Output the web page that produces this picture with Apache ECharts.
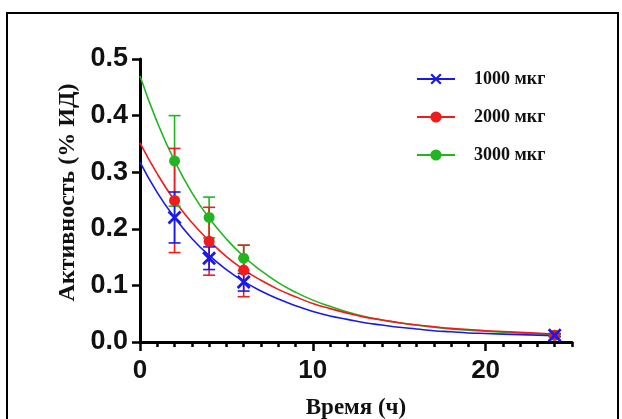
<!DOCTYPE html>
<html>
<head>
<meta charset="utf-8">
<script src="https://cdn.jsdelivr.net/npm/echarts@6/dist/echarts.min.js"></script>
<style>
html,body{margin:0;padding:0;background:#fff;}
#chart{width:622px;height:419px;}
</style>
</head>
<body>
<div id="chart"></div>
<script>
// ---- data ----
const doseNames = ['1000 мкг', '2000 мкг', '3000 мкг'];
const xTickLabels = [0, 10, 20];

// fitted decay curves
const curveTime = [0,1,2,3,4,5,6,7,8,9,10,11,12,13,14,15,16,17,18,19,20,22,24];
const curve1000 = [0.318,0.264,0.220,0.183,0.153,0.128,0.107,0.090,0.076,0.064,0.054,0.046,0.040,0.034,0.030,0.026,0.023,0.020,0.018,0.016,0.015,0.013,0.011];
const curve2000 = [0.352,0.297,0.250,0.211,0.179,0.151,0.128,0.109,0.093,0.080,0.068,0.059,0.051,0.044,0.039,0.034,0.030,0.027,0.024,0.022,0.020,0.017,0.014];
const curve3000 = [0.470,0.388,0.320,0.264,0.219,0.182,0.151,0.126,0.105,0.088,0.074,0.063,0.053,0.045,0.039,0.034,0.030,0.026,0.023,0.021,0.019,0.016,0.013];

// measured points with error bars
const pointTime = [2, 4, 6, 24];
const mean1000 = [0.220, 0.148, 0.106, 0.012];
const low1000  = [0.175, 0.128, 0.090, 0.009];
const high1000 = [0.265, 0.168, 0.121, 0.015];
const mean2000 = [0.250, 0.178, 0.127, 0.012];
const low2000  = [0.158, 0.118, 0.080, 0.010];
const high2000 = [0.342, 0.238, 0.171, 0.014];
const mean3000 = [0.320, 0.220, 0.148, 0.012];
const low3000  = [0.240, 0.184, 0.126, 0.010];
const high3000 = [0.400, 0.256, 0.171, 0.014];

// ---- styling ----
const colors = ['#1a1ae6', '#ee1c1c', '#22b522'];
const xSymbol = 'path://M0,1.4 L1.4,0 L5,3.6 L8.6,0 L10,1.4 L6.4,5 L10,8.6 L8.6,10 L5,6.4 L1.4,10 L0,8.6 L3.6,5 Z';
const symbols = [xSymbol, 'circle', 'circle'];
const symbolSizes = [14, 11, 11];

const curves = [curve1000, curve2000, curve3000];
const means = [mean1000, mean2000, mean3000];
const lows = [low1000, low2000, low3000];
const highs = [high1000, high2000, high3000];

function errRender(color) {
  return function (params, api) {
    const x = api.value(0);
    const lo = api.coord([x, api.value(1)]);
    const hi = api.coord([x, api.value(2)]);
    const w = 6;
    const st = { stroke: color, lineWidth: 1.6 };
    return {
      type: 'group',
      children: [
        { type: 'line', shape: { x1: lo[0], y1: lo[1], x2: hi[0], y2: hi[1] }, style: st },
        { type: 'line', shape: { x1: lo[0] - w, y1: lo[1], x2: lo[0] + w, y2: lo[1] }, style: st },
        { type: 'line', shape: { x1: hi[0] - w, y1: hi[1], x2: hi[0] + w, y2: hi[1] }, style: st }
      ]
    };
  };
}

const series = [];
// curves first (legend icons come from these)
[2, 1, 0].forEach(function (i) {
  series.push({
    name: doseNames[i],
    type: 'line',
    xAxisIndex: 0,
    data: curveTime.map(function (t, k) { return [t, curves[i][k]]; }),
    smooth: true,
    showSymbol: false,
    symbol: symbols[i],
    symbolSize: symbolSizes[i],
    lineStyle: { color: colors[i], width: 1.6 },
    itemStyle: { color: colors[i] },
    z: 2,
    silent: true
  });
});
[2, 1, 0].forEach(function (i) {
  series.push({
    name: doseNames[i] + ' err',
    type: 'custom',
    xAxisIndex: 0,
    renderItem: errRender(colors[i]),
    encode: { x: 0, y: [1, 2] },
    data: pointTime.map(function (t, k) { return [t, lows[i][k], highs[i][k]]; }),
    z: 3,
    silent: true
  });
  series.push({
    name: doseNames[i],
    type: 'scatter',
    xAxisIndex: 0,
    data: pointTime.map(function (t, k) { return [t, means[i][k]]; }),
    symbol: symbols[i],
    symbolSize: symbolSizes[i],
    itemStyle: { color: colors[i], opacity: 1 },
    z: 4,
    silent: true
  });
});

const chart = echarts.init(document.getElementById('chart'), null, { renderer: 'canvas' });
chart.setOption({
  animation: false,
  backgroundColor: '#ffffff',
  grid: { left: 140, right: 50, top: 59, bottom: 77, containLabel: false, outerBoundsMode: 'none' },
  legend: {
    data: doseNames.slice(),
    orient: 'vertical',
    left: 411,
    top: 65,
    itemWidth: 38,
    itemHeight: 14,
    itemGap: 20,
    selectedMode: false,
    textStyle: {
      fontFamily: 'Liberation Serif',
      fontWeight: 'bold',
      fontSize: 18,
      color: '#111',
      padding: [0, 0, 0, 14]
    }
  },
  xAxis: [{
    type: 'value',
    min: 0,
    max: 25,
    interval: 1,
    name: 'Время (ч)',
    nameLocation: 'middle',
    nameGap: 55,
    nameTextStyle: { fontFamily: 'Liberation Serif', fontWeight: 'bold', fontSize: 23, color: '#111' },
    axisLine: { onZero: false, lineStyle: { color: '#000', width: 3 } },
    axisTick: { length: 5, lineStyle: { color: '#000', width: 2.5 } },
    axisLabel: {
      customValues: xTickLabels,
      margin: 16,
      fontFamily: 'Liberation Sans',
      fontWeight: 'bold',
      fontSize: 26,
      color: '#111'
    },
    splitLine: { show: false }
  }, {
    type: 'value',
    min: 0,
    max: 25,
    position: 'bottom',
    axisLine: { show: false },
    axisTick: { customValues: xTickLabels, length: 9, lineStyle: { color: '#000', width: 2.5 } },
    axisLabel: { show: false },
    splitLine: { show: false }
  }],
  yAxis: {
    type: 'value',
    min: 0,
    max: 0.5,
    interval: 0.1,
    name: 'Активность (% ИД)',
    nameLocation: 'middle',
    nameGap: 60,
    nameTextStyle: { fontFamily: 'Liberation Serif', fontWeight: 'bold', fontSize: 24, color: '#111', padding: [0, 0, 0, 16] },
    axisLine: { show: true, lineStyle: { color: '#000', width: 3 } },
    axisTick: { show: true, length: 8, lineStyle: { color: '#000', width: 2.5 } },
    axisLabel: {
      margin: 12,
      formatter: function (v) { return v.toFixed(1); },
      fontFamily: 'Liberation Sans',
      fontWeight: 'bold',
      fontSize: 27,
      color: '#111'
    },
    splitLine: { show: false }
  },
  graphic: [{
    type: 'rect',
    shape: { x: 7, y: 13, width: 611, height: 420 },
    style: { fill: 'none', stroke: '#000', lineWidth: 2 },
    silent: true,
    z: 100
  }],
  series: series
});
</script>
</body>
</html>
